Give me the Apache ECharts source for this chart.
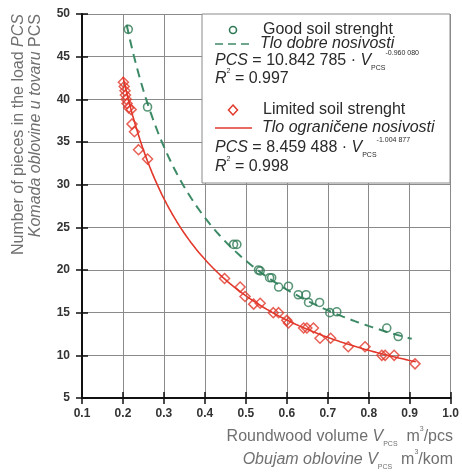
<!DOCTYPE html>
<html><head><meta charset="utf-8">
<script src="https://cdn.jsdelivr.net/npm/echarts@6/dist/echarts.min.js"></script>
<style>html,body{margin:0;padding:0;background:#fff}#c{width:462px;height:475px}</style>
</head><body><div id="c"></div>
<script>
// ---- data ----
const xTicks = [0.1,0.2,0.3,0.4,0.5,0.6,0.7,0.8,0.9,1.0];
const yTicks = [5,10,15,20,25,30,35,40,45,50];
const goodV   = [0.213,0.26,0.47,0.478,0.531,0.535,0.558,0.563,0.58,0.604,0.628,0.647,0.653,0.68,0.705,0.722,0.844,0.872];
const goodPCS = [48.2,39.1,23.0,23.0,20.0,19.9,19.1,19.1,18.0,18.1,17.1,17.1,16.2,16.2,15.0,15.1,13.2,12.2];
const limV    = [0.201,0.203,0.205,0.206,0.208,0.21,0.214,0.22,0.222,0.228,0.238,0.26,0.448,0.486,0.498,0.519,0.535,0.567,0.58,0.6,0.604,0.641,0.649,0.665,0.681,0.707,0.75,0.791,0.832,0.84,0.862,0.913];
const limPCS  = [42.0,41.5,41.0,40.5,40.0,39.5,39.0,38.8,37.1,36.2,34.1,33.0,19.0,18.0,16.9,16.0,16.1,15.0,15.0,14.1,13.8,13.2,13.2,13.2,12.0,12.0,11.0,11.0,10.0,10.0,10.0,9.0];
// fitted power curves shown in the legend: PCS = a * V^b, drawn over [vStart, vEnd]
const goodFit = [10.842785, -0.960080];
const goodRange = [0.209, 0.905];
const limFit = [8.459488, -1.004877];
const limRange = [0.2, 0.915];

function curve(fit, range){
  const pts=[]; const n=120;
  for(let i=0;i<=n;i++){ const v=range[0]+(range[1]-range[0])*i/n; pts.push([v, fit[0]*Math.pow(v,fit[1])]); }
  return pts;
}
const zip=(a,b)=>a.map((v,i)=>[v,b[i]]);

const GREEN='#2f7a55', RED='#e2382b', TXT='#2a2a2a', TITLE='#707070';
const FF='Liberation Sans, Arial, sans-serif';
const chart=echarts.init(document.getElementById('c'),null,{renderer:'canvas'});

const axisCommon = {
  axisLine:{show:true,lineStyle:{color:'#111',width:2}},
  axisTick:{show:true,length:6,lineStyle:{color:'#111',width:1.5}},
  splitLine:{show:true,lineStyle:{color:'#8a8a8a',width:1}},
  axisLabel:{color:'#333',fontFamily:FF,fontSize:12,fontWeight:'bold'}
};

function richSet(col, fs, lh){
  return {
    n:{fontFamily:FF,fontSize:fs,fill:col},
    i:{fontFamily:FF,fontSize:fs,fill:col,fontStyle:'italic'},
    sub:{fontFamily:FF,fontSize:7,fill:col,verticalAlign:'bottom',lineHeight:lh},
    sup:{fontFamily:FF,fontSize:7,fill:col,verticalAlign:'top',lineHeight:lh}
  };
}
const legendRich = richSet(TXT,16,22);
function t(x,y,text){return {type:'text',x:x,y:y,z:100,style:{text:text,rich:legendRich,fill:TXT,textVerticalAlign:'middle'}};}
const titleRich = richSet(TITLE,16,22);

chart.setOption({
  animation:false,
  backgroundColor:'#fff',
  grid:{left:82,right:11,top:14,bottom:77},
  xAxis:[Object.assign({type:'value',min:xTicks[0],max:xTicks[xTicks.length-1],interval:0.1},axisCommon,{
    axisLabel:Object.assign({},axisCommon.axisLabel,{margin:10,formatter:v=>v.toFixed(1)})}),
    {type:'value',min:0.1,max:1.0,interval:0.1,position:'bottom',axisLine:{show:false},axisLabel:{show:false},splitLine:{show:false},axisTick:{show:true,inside:true,length:6,lineStyle:{color:'#111',width:1.5}}}],
  yAxis:[Object.assign({type:'value',min:yTicks[0],max:yTicks[yTicks.length-1],interval:5},axisCommon,{
    axisLabel:Object.assign({},axisCommon.axisLabel,{margin:12})}),
    {type:'value',min:5,max:50,interval:5,position:'left',axisLine:{show:false},axisLabel:{show:false},splitLine:{show:false},axisTick:{show:true,inside:true,length:6,lineStyle:{color:'#111',width:1.5}}}],
  series:[
    {type:'line',data:curve(goodFit,goodRange),showSymbol:false,symbol:'none',lineStyle:{color:'#3c8a66',width:2,type:[9,6]},z:3},
    {type:'line',data:curve(limFit,limRange),showSymbol:false,symbol:'none',lineStyle:{color:RED,width:1.6},z:3},
    {type:'scatter',data:zip(goodV,goodPCS),symbol:'circle',symbolSize:8,itemStyle:{color:'rgba(255,255,255,0)',borderColor:GREEN,borderWidth:1.6},z:4},
    {type:'scatter',data:zip(limV,limPCS),symbol:'diamond',symbolSize:10,itemStyle:{color:'rgba(255,255,255,0)',borderColor:RED,borderWidth:1.5},z:4}
  ],
  graphic:[
    {type:'rect',z:90,shape:{x:202,y:14,width:248,height:169},style:{fill:'#fff',stroke:'#8a8a8a',lineWidth:1}},
    {type:'circle',z:100,shape:{cx:233,cy:30,r:3.5},style:{fill:'none',stroke:GREEN,lineWidth:1.6}},
    t(263,30,'{n|Good soil strenght}'),
    {type:'line',z:100,shape:{x1:215,y1:44,x2:252,y2:44},style:{stroke:'#3c8a66',lineWidth:1.5,lineDash:[8,5]}},
    t(260,44,'{i|Tlo dobre nosivosti}'),
    t(215,61,'{i|PCS}{n| = 10.842 785 · }{i|V}{sub|PCS}{sup|-0.960 080}'),
    t(215,79,'{i|R}{sup|2}{n| = 0.997}'),
    {type:'polygon',z:100,shape:{points:[[233,105],[237.5,110],[233,115],[228.5,110]]},style:{fill:'none',stroke:RED,lineWidth:1.5}},
    t(263,110,'{n|Limited soil strenght}'),
    {type:'line',z:100,shape:{x1:215,y1:128,x2:252,y2:128},style:{stroke:RED,lineWidth:1.5}},
    t(262,128,'{i|Tlo ograničene nosivosti}'),
    t(215,148,'{i|PCS}{n| = 8.459 488 · }{i|V}{sub|PCS}{sup|-1.004 877}'),
    t(215,167,'{i|R}{sup|2}{n| = 0.998}'),
    // axis titles
    {type:'text',z:100,x:19,y:14,rotation:Math.PI/2,style:{text:'{n|Number of pieces in the load }{i|PCS}',textAlign:'right',textVerticalAlign:'middle',rich:titleRich}},
    {type:'text',z:100,x:36,y:14,rotation:Math.PI/2,style:{text:'{i|Komada oblovine u tovaru }{n|PCS}',textAlign:'right',textVerticalAlign:'middle',rich:titleRich}},
    {type:'text',z:100,x:453,y:437,style:{text:'{n|Roundwood volume }{i|V}{sub|PCS}{n|  m}{sup|3}{n|/pcs}',textAlign:'right',textVerticalAlign:'middle',rich:titleRich}},
    {type:'text',z:100,x:453,y:460,style:{text:'{i|Obujam oblovine V}{sub|PCS}{n|  m}{sup|3}{n|/kom}',textAlign:'right',textVerticalAlign:'middle',rich:titleRich}}
  ]
});
</script></body></html>
